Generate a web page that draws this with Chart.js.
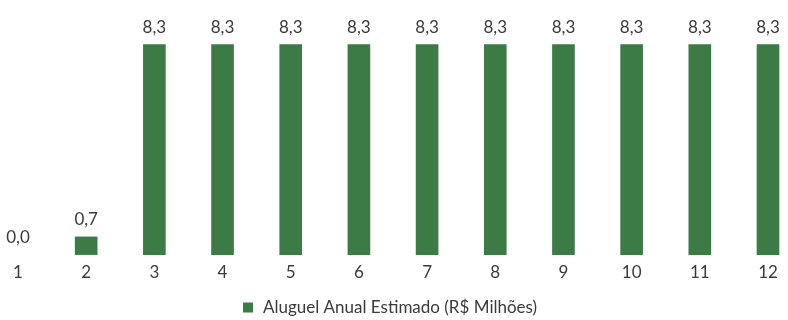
<!DOCTYPE html>
<html>
<head>
<meta charset="utf-8">
<script src="https://cdn.jsdelivr.net/npm/chart.js@4/dist/chart.umd.min.js"></script>
<style>
html,body{margin:0;padding:0;background:#fff;}
#wrap{width:788px;height:320px;position:relative;}
</style>
</head>
<body>
<div id="wrap"><canvas id="c" width="788" height="320"></canvas></div>
<script>
const categories = ['1','2','3','4','5','6','7','8','9','10','11','12'];
const aluguel = [0.0, 0.7, 8.3, 8.3, 8.3, 8.3, 8.3, 8.3, 8.3, 8.3, 8.3, 8.3];
const seriesName = 'Aluguel Anual Estimado (R$ Milhões)';

const FONT = 'Lato, "Open Sans", sans-serif';
const TEXT = '#3a3a3a';
const GREEN = '#3c7b46';

const valueLabels = {
  id: 'valueLabels',
  afterDatasetsDraw(chart) {
    const ctx = chart.ctx;
    const meta = chart.getDatasetMeta(0);
    ctx.save();
    ctx.font = '17px ' + FONT;
    ctx.fillStyle = TEXT;
    ctx.textAlign = 'center';
    ctx.textBaseline = 'middle';
    meta.data.forEach((el, i) => {
      const v = chart.data.datasets[0].data[i];
      ctx.fillText(v.toFixed(1).replace('.', ','), el.x, el.y - 17);
    });
    ctx.restore();
  }
};

const bottomLegend = {
  id: 'bottomLegend',
  afterDraw(chart) {
    const ctx = chart.ctx;
    ctx.save();
    ctx.font = '17px ' + FONT;
    const tw = ctx.measureText(seriesName).width;
    const box = 10, gap = 10;
    const total = box + gap + tw;
    const cx = 390, cy = 308;
    const x0 = Math.round(cx - total / 2);
    ctx.fillStyle = GREEN;
    ctx.fillRect(x0, cy - box / 2 - 0.5, box, box);
    ctx.fillStyle = TEXT;
    ctx.textAlign = 'left';
    ctx.textBaseline = 'middle';
    ctx.fillText(seriesName, x0 + box + gap, cy);
    ctx.restore();
  }
};

new Chart(document.getElementById('c'), {
  type: 'bar',
  data: {
    labels: categories,
    datasets: [{
      label: seriesName,
      data: aluguel,
      backgroundColor: (c) => (c.raw === 0 ? 'rgba(0,0,0,0)' : GREEN),
      borderWidth: 0,
      barThickness: 22,
      clip: false
    }]
  },
  options: {
    responsive: false,
    animation: false,
    layout: { padding: { left: 18, right: 20, top: 27, bottom: 29 } },
    plugins: {
      legend: { display: false },
      tooltip: { enabled: false }
    },
    scales: {
      x: {
        offset: false,
        grid: { display: false, drawTicks: false },
        border: { display: false },
        ticks: { font: { family: FONT, size: 17 }, color: TEXT, padding: 8, maxRotation: 0, autoSkip: false }
      },
      y: {
        display: false,
        min: 0,
        max: 9
      }
    }
  },
  plugins: [valueLabels, bottomLegend]
});
</script>
</body>
</html>
